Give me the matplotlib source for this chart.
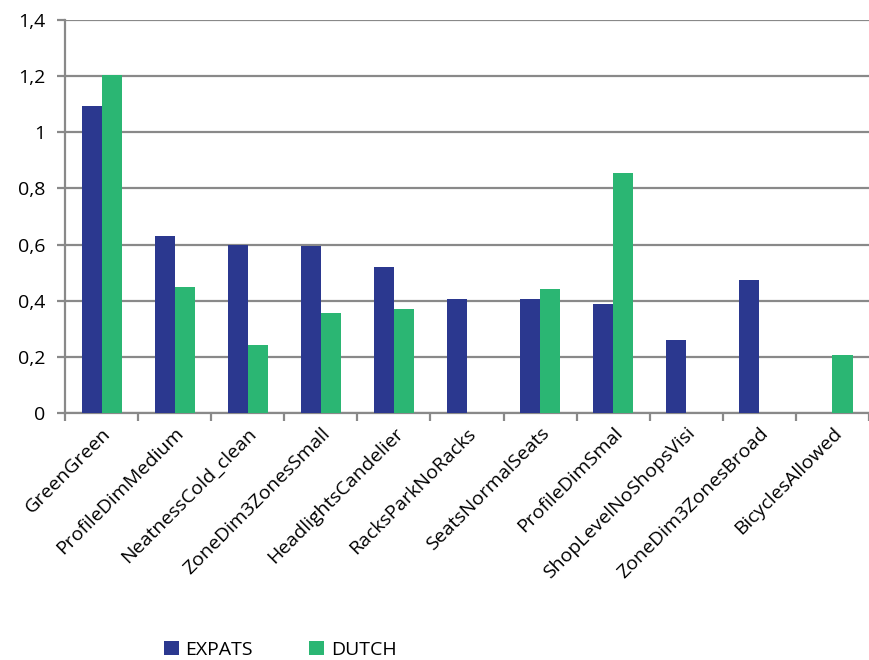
import numpy as np
import matplotlib
matplotlib.use("Agg")
import matplotlib.pyplot as plt
from matplotlib.ticker import FuncFormatter

categories = [
    "GreenGreen", "ProfileDimMedium", "NeatnessCold_clean", "ZoneDim3ZonesSmall",
    "HeadlightsCandelier", "RacksParkNoRacks", "SeatsNormalSeats", "ProfileDimSmal",
    "ShopLevelNoShopsVisi", "ZoneDim3ZonesBroad", "BicyclesAllowed",
]
expats = [1.092, 0.630, 0.600, 0.594, 0.521, 0.406, 0.406, 0.388, 0.260, 0.474, 0.0]
dutch = [1.205, 0.449, 0.243, 0.357, 0.370, 0.0, 0.443, 0.856, 0.0, 0.0, 0.206]

EXPATS_COLOR = "#2B388F"
DUTCH_COLOR = "#2BB673"
GRID_COLOR = "#898989"
FS = 14

plt.rcParams["font.family"] = ["Open Sans", "DejaVu Sans"]

fig = plt.figure(figsize=(8.7, 6.6), dpi=100)
ax = fig.add_axes([0.0747, 0.3742, 0.9242, 0.5955])

x = np.arange(len(categories))
w = 0.274
ax.bar(x - w / 2, expats, w, color=EXPATS_COLOR, label="EXPATS", zorder=3)
ax.bar(x + w / 2, dutch, w, color=DUTCH_COLOR, label="DUTCH", zorder=3)

ax.set_xlim(-0.5, len(categories) - 0.5)
ax.set_ylim(0, 1.4)
ax.set_yticks(np.arange(0, 1.41, 0.2))
ax.yaxis.set_major_formatter(
    FuncFormatter(lambda v, _: f"{v:.1f}".replace(".", ",").replace(",0", "") if v != 0 else "0")
)
ax.grid(axis="y", color=GRID_COLOR, linewidth=1.6, zorder=0)

# category boundaries carry the tick marks, labels sit at the centres
ax.set_xticks(np.arange(len(categories) + 1) - 0.5, minor=False)
ax.set_xticklabels([])
ax.set_xticks(x, minor=True)
ax.set_xticklabels(categories, minor=True, rotation=45, ha="right",
                   rotation_mode="anchor", fontsize=FS)
ax.tick_params(axis="x", which="minor", length=0, pad=8)
ax.tick_params(axis="x", which="major", length=6, width=1.6, color=GRID_COLOR)
ax.tick_params(axis="y", length=6, width=1.6, color=GRID_COLOR, labelsize=FS, pad=8)

for side in ["top", "right"]:
    ax.spines[side].set_visible(False)
for side in ["left", "bottom"]:
    ax.spines[side].set_color(GRID_COLOR)
    ax.spines[side].set_linewidth(1.6)

fig.legend(loc="center", bbox_to_anchor=(0.322, 0.015), ncol=2, frameon=False,
           fontsize=FS, handlelength=0.75, handleheight=0.75, columnspacing=2.9,
           handletextpad=0.35)

fig.savefig("out.png", dpi=100)
